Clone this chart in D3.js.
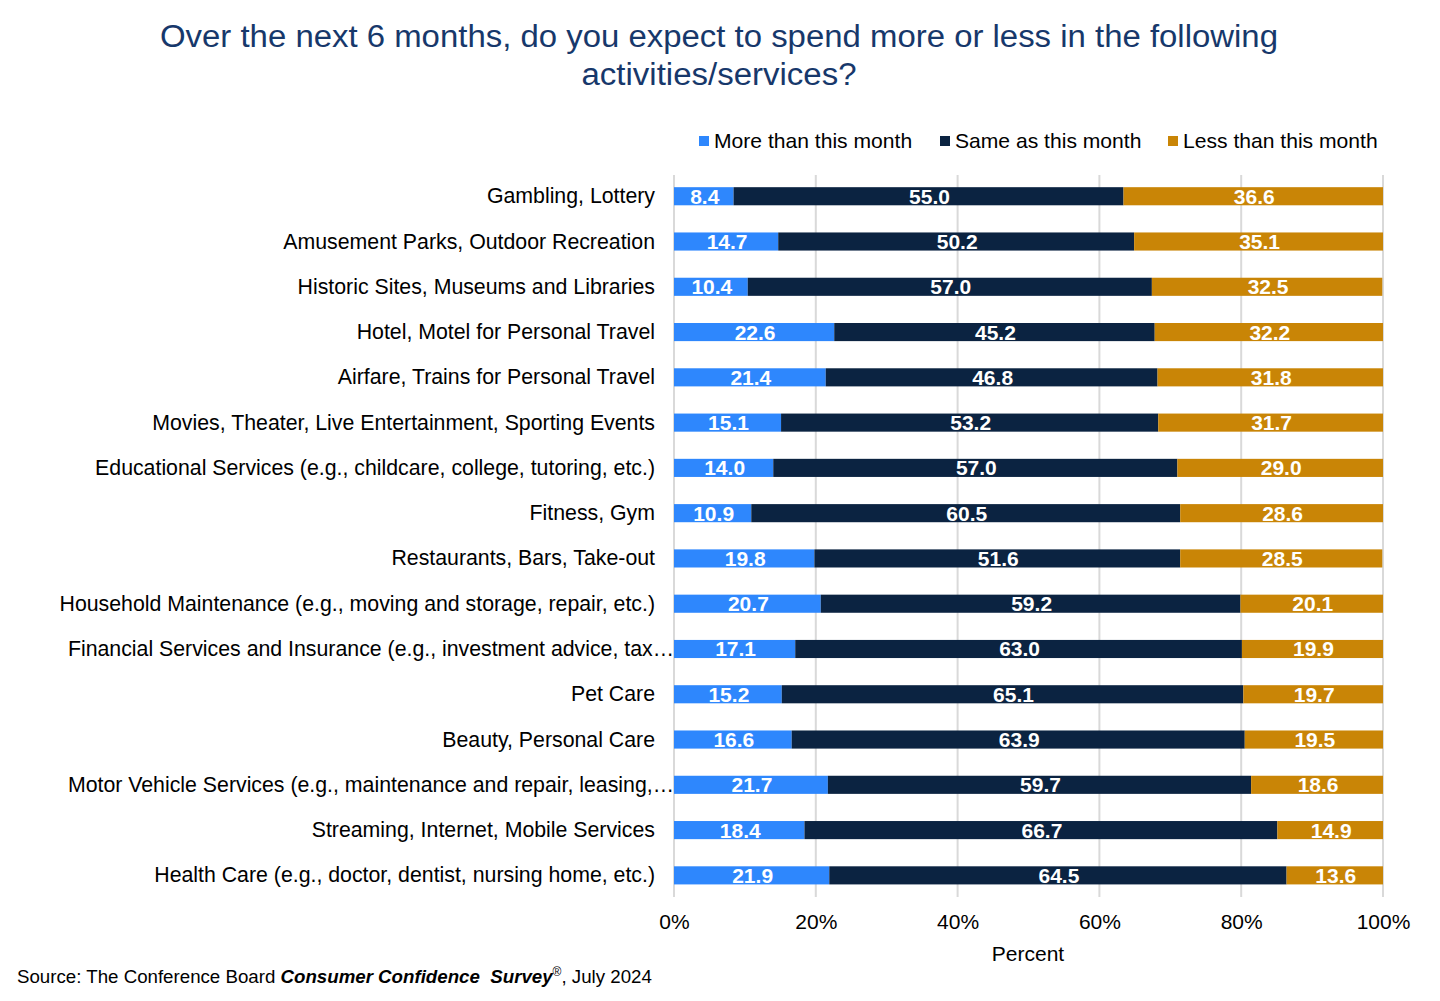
<!DOCTYPE html>
<html><head><meta charset="utf-8">
<script src="https://cdn.jsdelivr.net/npm/d3@7"></script>
<style>body{margin:0;background:#fff}svg{display:block}</style>
</head><body><svg id="c" width="1440" height="1001"></svg>
<script>
const categories = [
  "Gambling, Lottery",
  "Amusement Parks, Outdoor Recreation",
  "Historic Sites, Museums and Libraries",
  "Hotel, Motel for Personal Travel",
  "Airfare, Trains for Personal Travel",
  "Movies, Theater, Live Entertainment, Sporting Events",
  "Educational Services (e.g., childcare, college, tutoring, etc.)",
  "Fitness, Gym",
  "Restaurants, Bars, Take-out",
  "Household Maintenance (e.g., moving and storage, repair, etc.)",
  "Financial Services and Insurance (e.g., investment advice, tax\u2026",
  "Pet Care",
  "Beauty, Personal Care",
  "Motor Vehicle Services (e.g., maintenance and repair, leasing,\u2026",
  "Streaming, Internet, Mobile Services",
  "Health Care (e.g., doctor, dentist, nursing home, etc.)"
];
const moreValues = [8.4,14.7,10.4,22.6,21.4,15.1,14.0,10.9,19.8,20.7,17.1,15.2,16.6,21.7,18.4,21.9];
const sameValues = [55.0,50.2,57.0,45.2,46.8,53.2,57.0,60.5,51.6,59.2,63.0,65.1,63.9,59.7,66.7,64.5];
const lessValues = [36.6,35.1,32.5,32.2,31.8,31.7,29.0,28.6,28.5,20.1,19.9,19.7,19.5,18.6,14.9,13.6];
const seriesNames = ["More than this month","Same as this month","Less than this month"];
const seriesColors = ["#2E87FD","#0B2341","#C98506"];
const xTicks = [0,20,40,60,80,100];
const titleLines = ["Over the next 6 months, do you expect to spend more or less in the following","activities/services?"];

const svg = d3.select("#c");
const font = "'Liberation Sans', Arial, sans-serif";

const x = d3.scaleLinear().domain([0,100]).range([674,1383]);
const y = d3.scaleBand().domain(categories).range([173.6,898]).paddingInner(0.6).paddingOuter(0.3);

// title
const titleW = [1118, 275];
svg.append("g").selectAll("text").data(titleLines).join("text")
  .attr("x",719).attr("y",(d,i)=>47+i*38).attr("text-anchor","middle")
  .attr("font-family",font).attr("font-size",31).attr("fill","#17386B")
  .attr("textLength",(d,i)=>titleW[i]).attr("lengthAdjust","spacingAndGlyphs").text(d=>d);

// gridlines
svg.append("g").selectAll("line").data(xTicks).join("line")
  .attr("x1",d=>x(d)).attr("x2",d=>x(d)).attr("y1",175).attr("y2",897)
  .attr("stroke","#D9D9D9").attr("stroke-width",2);

const rows = categories.map((c,i)=>({c, vals:[moreValues[i],sameValues[i],lessValues[i]]}));
const stackData = rows.map(r=>{let s=0; return r.vals.map((v,k)=>{const o={c:r.c,k,v,x0:s,x1:s+v}; s+=v; return o;});}).flat();

svg.append("g").selectAll("rect").data(stackData).join("rect")
  .attr("x",d=>x(d.x0)).attr("width",d=>x(d.x1)-x(d.x0))
  .attr("y",d=>y(d.c)).attr("height",y.bandwidth())
  .attr("fill",d=>seriesColors[d.k]);

svg.append("g").selectAll("text").data(stackData).join("text")
  .attr("x",d=>(x(d.x0)+x(d.x1))/2+1).attr("y",d=>y(d.c)+y.bandwidth()/2+7.5)
  .attr("text-anchor","middle").attr("font-family",font).attr("font-weight","bold")
  .attr("font-size",21).attr("fill","#fff").text(d=>d.v.toFixed(1));

// y axis labels (truncated labels run up to the plot edge)
svg.append("g").selectAll("text").data(categories).join("text")
  .attr("x",d=>d.endsWith("\u2026")?674:655).attr("y",d=>y(d)+y.bandwidth()/2+7)
  .attr("text-anchor","end")
  .attr("font-family",font).attr("font-size",21.3).attr("fill","#000").text(d=>d);

// x axis
const xa = svg.append("g").attr("transform","translate(0,897)")
  .call(d3.axisBottom(x).tickValues(xTicks).tickFormat(d=>d+"%").tickSize(0).tickPadding(17));
xa.select(".domain").remove();
xa.selectAll("text").attr("font-family",font).attr("font-size",21).attr("fill","#000");

svg.append("text").attr("x",1028).attr("y",961).attr("text-anchor","middle")
  .attr("font-family",font).attr("font-size",21).attr("fill","#000").text("Percent");

// legend
const legX = [699,940,1168];
const lg = svg.append("g").selectAll("g").data(seriesNames).join("g")
  .attr("transform",(d,i)=>`translate(${legX[i]},141)`);
lg.append("rect").attr("x",0).attr("y",-5).attr("width",10).attr("height",10).attr("fill",(d,i)=>seriesColors[i]);
lg.append("text").attr("x",15).attr("y",7).attr("font-family",font).attr("font-size",21.1).attr("fill","#000").text(d=>d);

// source
const src = svg.append("text").attr("x",17).attr("y",983).attr("font-family",font).attr("font-size",18.7)
  .attr("fill","#000").style("white-space","pre");
src.append("tspan").text("Source: The Conference Board ");
src.append("tspan").attr("font-weight","bold").attr("font-style","italic").text("Consumer Confidence  Survey");
src.append("tspan").attr("font-size",12).attr("dy",-7).text("\u00AE");
src.append("tspan").attr("dy",7).text(", July 2024");
</script></body></html>
